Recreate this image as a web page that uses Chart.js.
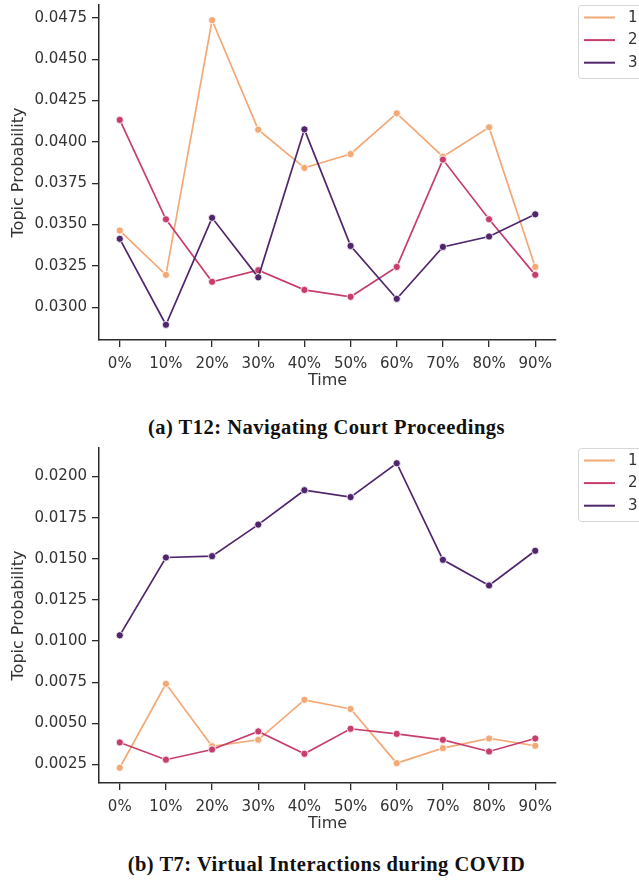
<!DOCTYPE html>
<html>
<head>
<meta charset="utf-8">
<script src="https://cdn.jsdelivr.net/npm/chart.js@4.4.1/dist/chart.umd.min.js"></script>
<style>
  html, body { margin: 0; padding: 0; background: #fff; }
  body { width: 639px; height: 881px; position: relative; overflow: hidden; }
  .panel { position: absolute; left: 0; width: 639px; height: 400px; }
  .caption {
    position: absolute; left: 7px; width: 639px; text-align: center;
    font-family: "Liberation Serif", "DejaVu Serif", serif; font-weight: bold;
    font-size: 20.5px; line-height: 20.5px; letter-spacing: 0.5px; color: #111; white-space: nowrap;
  }
</style>
</head>
<body>
<div class="panel" style="top:0"><canvas id="courtChart" width="639" height="400"></canvas></div>
<div class="caption" style="top:417px">(a) T12: Navigating Court Proceedings</div>
<div class="panel" style="top:443px"><canvas id="covidChart" width="639" height="400"></canvas></div>
<div class="caption" style="top:854px">(b) T7: Virtual Interactions during COVID</div>

<script>
// Time buckets along the x axis
const timeLabels = ['0%', '10%', '20%', '30%', '40%', '50%', '60%', '70%', '80%', '90%'];
const seriesNames = ['1', '2', '3'];
const seriesColors = ['#f3a976', '#c73e6d', '#4f266b'];

// T12: Navigating Court Proceedings
const courtSeries1 = [0.03464, 0.03196, 0.04736, 0.04074, 0.03843, 0.03927, 0.04173, 0.03911, 0.04088, 0.03244];
const courtSeries2 = [0.04133, 0.03532, 0.03154, 0.03224, 0.03105, 0.03063, 0.03244, 0.03893, 0.03532, 0.03196];
const courtSeries3 = [0.03414, 0.02894, 0.03541, 0.03181, 0.04076, 0.03371, 0.03051, 0.03365, 0.03428, 0.03562];
const courtTicks = [0.0300, 0.0325, 0.0350, 0.0375, 0.0400, 0.0425, 0.0450, 0.0475];

// T7: Virtual Interactions during COVID
const covidSeries1 = [0.00230, 0.00740, 0.00361, 0.00400, 0.00643, 0.00587, 0.00258, 0.00349, 0.00408, 0.00364];
const covidSeries2 = [0.00384, 0.00279, 0.00341, 0.00451, 0.00315, 0.00467, 0.00436, 0.00400, 0.00329, 0.00408];
const covidSeries3 = [0.01035, 0.01508, 0.01516, 0.01708, 0.01917, 0.01875, 0.02081, 0.01494, 0.01338, 0.01549];
const covidTicks = [0.0025, 0.0050, 0.0075, 0.0100, 0.0125, 0.0150, 0.0175, 0.0200];

const inkColor = '#333333';
const axisColor = '#2b2b2b';
const tickFont = { family: 'DejaVu Sans', size: 15 };
const titleFont = { family: 'DejaVu Sans', size: 16 };

// Legend box drawn at the top-right corner, just beside the plot area
const sideLegend = {
  id: 'sideLegend',
  afterDraw(chart) {
    const ctx = chart.ctx;
    const top = chart.chartArea.top;
    const x0 = 578.5, w = 80, h = 73;
    ctx.save();
    ctx.beginPath();
    ctx.roundRect(x0, top + 0.5, w, h, 3);
    ctx.fillStyle = 'rgba(255,255,255,0.85)';
    ctx.fill();
    ctx.strokeStyle = '#d6d6d6';
    ctx.lineWidth = 1;
    ctx.stroke();
    chart.data.datasets.forEach((ds, i) => {
      const y = top + 12.5 + i * 22.6;
      ctx.beginPath();
      ctx.moveTo(584, y);
      ctx.lineTo(615, y);
      ctx.strokeStyle = ds.borderColor;
      ctx.lineWidth = 2;
      ctx.stroke();
      ctx.fillStyle = inkColor;
      ctx.font = '15px "DejaVu Sans"';
      ctx.textAlign = 'left';
      ctx.textBaseline = 'middle';
      ctx.fillText(ds.label, 628, y + 0.5);
    });
    ctx.restore();
  }
};

function paddedRange(seriesList) {
  const all = seriesList.flat();
  const lo = Math.min(...all), hi = Math.max(...all);
  const pad = (hi - lo) * 0.05;
  return [lo - pad, hi + pad];
}

// Tick labels sit inside the fixed frame, so drop the label overhang padding
function fixBox(size, horizontal) {
  return s => {
    if (horizontal) s.height = size; else s.width = size;
    s.paddingTop = 0; s.paddingBottom = 0; s.paddingLeft = 0; s.paddingRight = 0;
  };
}

function makeChart(canvasId, seriesList, yTicks) {
  const [yMin, yMax] = paddedRange(seriesList);
  const datasets = seriesList.map((values, i) => ({
    label: seriesNames[i],
    data: values.map((v, k) => ({ x: k, y: v })),
    borderColor: seriesColors[i],
    backgroundColor: seriesColors[i],
    pointBackgroundColor: seriesColors[i],
    pointBorderColor: '#ffffff',
    pointBorderWidth: 0.8,
    pointRadius: 3.6,
    borderWidth: 1.7,
    tension: 0,
    order: seriesList.length - 1 - i
  }));

  return new Chart(document.getElementById(canvasId), {
    type: 'line',
    data: { datasets },
    plugins: [sideLegend],
    options: {
      responsive: false,
      animation: false,
      events: [],
      layout: { padding: { left: 0, right: 83, top: 5, bottom: 10 } },
      plugins: { legend: { display: false }, tooltip: { enabled: false } },
      scales: {
        x: {
          type: 'linear',
          min: -0.45,
          max: timeLabels.length - 1 + 0.45,
          afterBuildTicks: s => { s.ticks = timeLabels.map((_, i) => ({ value: i })); },
          afterFit: fixBox(50, true),
          ticks: {
            callback: v => timeLabels[v],
            font: tickFont, color: inkColor, padding: 8, maxRotation: 0, autoSkip: false
          },
          grid: { drawOnChartArea: false, drawTicks: true, tickLength: 7, color: axisColor, lineWidth: 1.3 },
          border: { display: true, color: axisColor, width: 1.5 },
          title: { display: true, text: 'Time', font: titleFont, color: inkColor, padding: 0 }
        },
        y: {
          type: 'linear',
          min: yMin,
          max: yMax,
          afterBuildTicks: s => { s.ticks = yTicks.map(v => ({ value: v })); },
          afterFit: fixBox(99, false),
          ticks: {
            callback: v => v.toFixed(4),
            font: tickFont, color: inkColor, padding: 5, autoSkip: false
          },
          grid: { drawOnChartArea: false, drawTicks: true, tickLength: 7, color: axisColor, lineWidth: 1.3 },
          border: { display: true, color: axisColor, width: 1.5 },
          title: { display: true, text: 'Topic Probability', font: titleFont, color: inkColor, padding: { top: 9, bottom: 0 } }
        }
      }
    }
  });
}

makeChart('courtChart', [courtSeries1, courtSeries2, courtSeries3], courtTicks);
makeChart('covidChart', [covidSeries1, covidSeries2, covidSeries3], covidTicks);
</script>
</body>
</html>
